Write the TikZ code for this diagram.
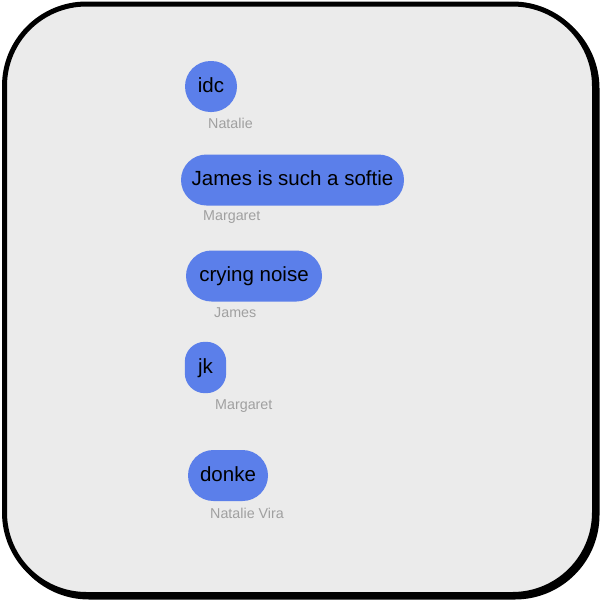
\documentclass[tikz,border=0pt]{standalone}
\usepackage{fontspec}
\setmainfont{Liberation Sans}
\usetikzlibrary{shapes.misc}
\definecolor{bubbleblue}{HTML}{5B7FEA}
\definecolor{panelgray}{HTML}{EBEBEB}
\definecolor{namegray}{HTML}{A0A0A0}
\newcommand{\bubbleFont}[0]{\fontsize{20.5}{24}\selectfont}
\newcommand{\nameFont}[0]{\fontsize{14.3}{16}\selectfont}

\begin{document}
\begin{tikzpicture}[x=1pt, y=-1pt]
  \tikzset{bubble/.style={fill=bubbleblue, rounded rectangle, font=\bubbleFont,
      text=black, inner xsep=2pt, minimum height=51pt, text height=15pt, text depth=4pt},
    who/.style={anchor=west, font=\nameFont, text=namegray, inner sep=0pt}}
  \useasboundingbox (0,0) rectangle (600,600);
  % panel
  \draw[line width=5pt, rounded corners=82pt, black] (7,6.5) rectangle (597,597);
  \draw[line width=5pt, rounded corners=82pt, fill=panelgray] (4.5,4) rectangle (594.5,594.5);
  % messages
  \node[bubble, minimum width=56pt] (idc) at (211,86.5) {idc};
  \node[who] (idc-who) at (208,123) {Natalie};
  \node[bubble, minimum width=227pt] (softie) at (292.5,180) {James is such a softie};
  \node[who] (softie-who) at (203,217) {Margaret};
  \node[bubble, minimum width=140pt] (crying) at (254,276) {crying noise};
  \node[who] (crying-who) at (214,313) {James};
  \node[inner sep=0pt, minimum width=41pt, minimum height=51pt] (jk-box) at (205.5,367.5) {};
  \fill[bubbleblue, rounded corners=20pt] (jk-box.south west) rectangle (jk-box.north east);
  \node[font=\bubbleFont, text height=15pt, text depth=4pt] (jk) at (jk-box.center) {jk};
  \node[who] (jk-who) at (215,406) {Margaret};
  \node[bubble, minimum width=84pt] (donke) at (228,475.5) {donke};
  \node[who] (donke-who) at (210,513) {Natalie Vira};
\end{tikzpicture}
\end{document}
